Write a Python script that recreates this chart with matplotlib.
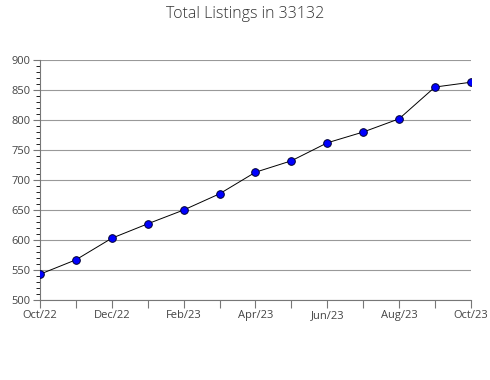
import matplotlib.pyplot as plt
import numpy as np
from matplotlib.ticker import MultipleLocator

plt.rcParams['font.family'] = ['Open Sans', 'DejaVu Sans']

months = ['Oct/22', 'Nov/22', 'Dec/22', 'Jan/23', 'Feb/23', 'Mar/23', 'Apr/23',
          'May/23', 'Jun/23', 'Jul/23', 'Aug/23', 'Sep/23', 'Oct/23']
listings = [543, 567, 603, 627, 650, 677, 713, 732, 762, 780, 802, 855, 863]

fig = plt.figure(figsize=(4.9, 3.8), dpi=100)
ax = fig.add_axes([0.0816, 0.2105, 0.8794, 0.6315])

x = np.arange(len(months))
ax.plot(x, listings, color='black', lw=0.7, marker='o', markersize=5.5,
        markerfacecolor='#0000ff', markeredgecolor='#000033', markeredgewidth=0.7, zorder=3)

ax.set_xlim(0, len(months) - 1)
ax.set_ylim(500, 900)
ax.set_xticks(x)
ax.set_xticklabels([m if i % 2 == 0 else '' for i, m in enumerate(months)])
ax.yaxis.set_major_locator(MultipleLocator(50))
ax.yaxis.set_minor_locator(MultipleLocator(10))
ax.grid(axis='y', color='#999999', lw=0.8)
ax.set_axisbelow(True)

for s in ['top', 'right']:
    ax.spines[s].set_visible(False)
for s in ['left', 'bottom']:
    ax.spines[s].set_color('#777777')
    ax.spines[s].set_linewidth(0.8)

ax.tick_params(axis='both', colors='#777777', labelcolor='#444444', labelsize=8, width=0.8)
ax.tick_params(axis='x', length=6, pad=1)
ax.tick_params(axis='y', which='major', length=5, pad=2)
ax.tick_params(axis='y', which='minor', length=3, width=0.6)

fig.suptitle('Total Listings in 33132', y=0.985, fontsize=11.5, color='#333333', fontweight='light')

plt.savefig('out.png', dpi=100)
